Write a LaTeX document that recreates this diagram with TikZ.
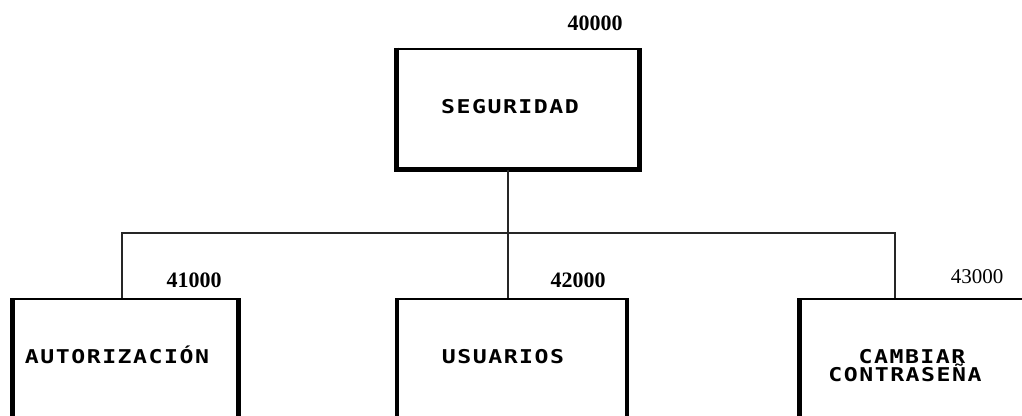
\documentclass[tikz,border=0pt]{standalone}
\usepackage{fontspec}
\setmainfont{Liberation Serif}
\newfontfamily\boxfont[FakeStretch=1.22,LetterSpace=8]{DejaVu Sans Mono Bold}
\begin{document}
\begin{tikzpicture}[x=1pt,y=-1pt,
  box/.style={draw=black,line width=2.2pt,inner sep=0pt,anchor=north west},
  boxtxt/.style={anchor=base,inner sep=0pt,font=\boxfont\fontsize{19}{18}\selectfont,align=center},
  num/.style={anchor=base,inner sep=0pt,font=\bfseries\fontsize{22}{22}\selectfont},
  numr/.style={anchor=base,inner sep=0pt,font=\fontsize{21}{21}\selectfont},
  conn/.style={draw=black!85,line width=1.1pt}]
\useasboundingbox (0,0) rectangle (1022,415);
% boxes
\node[box,minimum width=241pt,minimum height=120pt] (top) at (396.5,47.5) {};
\node[box,minimum width=224pt,minimum height=150pt] (b1) at (12.5,298) {};
\node[box,minimum width=228pt,minimum height=150pt] (b2) at (397,298) {};
\node[box,minimum width=240pt,minimum height=150pt] (b3) at (799.5,298) {};
% thicker sides
\draw[line width=4.5pt] (top.north west) -- (top.south west) -- (top.south east) -- (top.north east);
\draw[line width=4.5pt] (b1.north west) -- (b1.south west) (b1.north east) -- (b1.south east);
\draw[line width=4.5pt] (b2.north west) -- (b2.south west) (b2.north east) -- (b2.south east);
\draw[line width=4.5pt] (b3.north west) -- (b3.south west);
% texts
\node[boxtxt] (t0) at (510,113) {SEGURIDAD};
\node[boxtxt] (t1) at (117,363) {AUTORIZACIÓN};
\node[boxtxt] (t2) at (503,363) {USUARIOS};
\node[boxtxt] (t3) at (905,381) {\hspace*{14pt}CAMBIAR\\CONTRASEÑA};
% numbers
\node[num] (n0) at (595,30) {40000};
\node[num] (n1) at (194,287) {41000};
\node[num] (n2) at (578,287) {42000};
\node[numr] (n3) at (977,283) {43000};
% connectors
\coordinate (j) at (508,233);
\coordinate (jl) at (122,233);
\coordinate (jr) at (895,233);
\draw[conn] (j |- top.south) -- (j |- b2.north);
\draw[conn] (jl |- b1.north) -- (jl) -- (jr) -- (jr |- b3.north);
\end{tikzpicture}
\end{document}
